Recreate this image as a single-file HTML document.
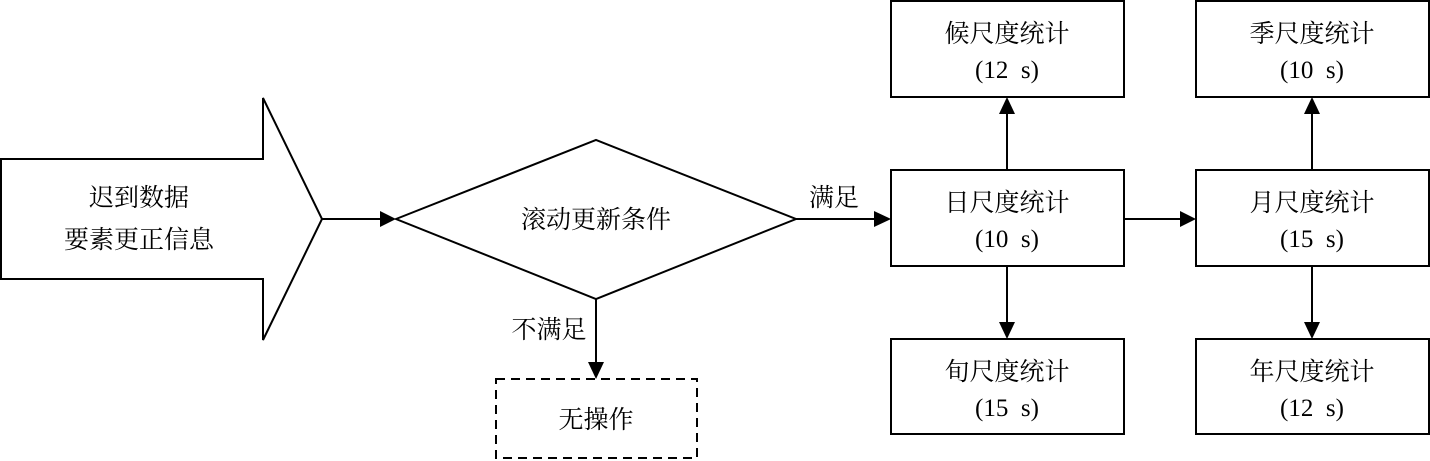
<!DOCTYPE html>
<html><head><meta charset="utf-8"><style>
html,body{margin:0;padding:0;background:#fff;}
svg{display:block;}
text{font-family:"Liberation Serif","Noto Serif CJK SC",serif;font-size:25px;fill:#000;}
</style></head><body>
<svg width="1430" height="461" viewBox="0 0 1430 461" xmlns="http://www.w3.org/2000/svg">
<g fill="none" stroke="#000" stroke-width="2">
<polygon points="1,159 263,159 263,98 322,219 263,340 263,279 1,279" fill="#fff"/>
<polygon points="396,219 596,140 796,219 596,299" fill="#fff"/>
<rect x="891" y="1" width="233" height="96"/>
<rect x="891" y="170" width="233" height="96"/>
<rect x="891" y="339" width="233" height="95"/>
<rect x="1196" y="1" width="233" height="96"/>
<rect x="1196" y="170" width="233" height="96"/>
<rect x="1196" y="339" width="233" height="95"/>
<rect x="496" y="379" width="201" height="79" stroke-dasharray="9,6"/>
<line x1="322" y1="219" x2="382" y2="219"/>
<line x1="796" y1="219" x2="876" y2="219"/>
<line x1="1124" y1="219" x2="1182" y2="219"/>
<line x1="596" y1="299" x2="596" y2="364"/>
<line x1="1007" y1="170" x2="1007" y2="112"/>
<line x1="1007" y1="266" x2="1007" y2="324"/>
<line x1="1312" y1="170" x2="1312" y2="112"/>
<line x1="1312" y1="266" x2="1312" y2="324"/>
</g>
<g fill="#000">
<polygon points="380,211 396,219 380,227"/>
<polygon points="874,211 891,219 874,227"/>
<polygon points="1180,211 1196,219 1180,227"/>
<polygon points="588,362 596,379 604,362"/>
<polygon points="999,114 1007,97 1015,114"/>
<polygon points="999,322 1007,339 1015,322"/>
<polygon points="1304,114 1312,97 1320,114"/>
<polygon points="1304,322 1312,339 1320,322"/>
</g>
<g text-anchor="middle">
<text x="139" y="206">迟到数据</text>
<text x="139" y="248">要素更正信息</text>
<text x="596" y="228">滚动更新条件</text>
<text x="834" y="206">满足</text>
<text x="549" y="338">不满足</text>
<text x="596" y="428">无操作</text>
<text x="1007" y="42">候尺度统计</text>
<text x="1007" y="78">(12&#160;&#160;s)</text>
<text x="1007" y="211">日尺度统计</text>
<text x="1007" y="247">(10&#160;&#160;s)</text>
<text x="1007" y="380">旬尺度统计</text>
<text x="1007" y="416">(15&#160;&#160;s)</text>
<text x="1312" y="42">季尺度统计</text>
<text x="1312" y="78">(10&#160;&#160;s)</text>
<text x="1312" y="211">月尺度统计</text>
<text x="1312" y="247">(15&#160;&#160;s)</text>
<text x="1312" y="380">年尺度统计</text>
<text x="1312" y="416">(12&#160;&#160;s)</text>
</g>
</svg>
</body></html>
